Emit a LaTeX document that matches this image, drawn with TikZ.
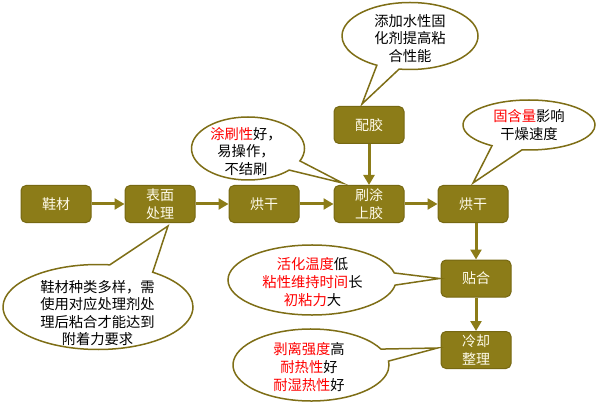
\documentclass[tikz,border=0pt]{standalone}
\usepackage{fontspec}
\setmainfont{Noto Sans CJK SC}
\usetikzlibrary{shapes.callouts,arrows.meta,calc}
\definecolor{boxolive}{RGB}{140,124,24}
\definecolor{boxedge}{RGB}{118,104,18}
\definecolor{bubbleedge}{RGB}{126,110,22}
\definecolor{boxtext}{RGB}{255,252,235}
\definecolor{hot}{RGB}{255,0,0}
\newcommand{\hl}[1]{\textcolor{hot}{#1}}
\tikzset{
  stepbox/.style={draw=boxedge, fill=boxolive, rounded corners=5pt, line width=1pt,
    minimum width=70pt, minimum height=37pt, inner sep=0pt, text=boxtext,
    font=\fontsize{14}{18}\selectfont, align=center},
  flow/.style={draw=boxolive, line width=3pt, -{Triangle[length=10pt,width=11pt]}},
  bubble/.style={ellipse callout, draw=bubbleedge, fill=white, line width=1.5pt,
    inner sep=0pt, callout pointer arc=20},
  btext/.style={inner sep=0pt, align=center, font=\fontsize{14.3}{17.6}\selectfont, text=black}
}
\begin{document}
\begin{tikzpicture}[x=1pt,y=-1pt]
\useasboundingbox (0,0) rectangle (596,403);
% process boxes
\node[stepbox] (b1) at (56,204) {鞋材};
\node[stepbox] (b2) at (160,204) {表面\\处理};
\node[stepbox] (b3) at (264,204) {烘干};
\node[stepbox] (b4) at (369,204) {刷涂\\上胶};
\node[stepbox] (b5) at (473,204) {烘干};
\node[stepbox] (b6) at (369,125) {配胶};
\node[stepbox] (b7) at (476,278.5) {贴合};
\node[stepbox] (b8) at (476,350) {冷却\\整理};
% arrows
\draw[flow] (b1.east) -- (b2.west);
\draw[flow] (b2.east) -- (b3.west);
\draw[flow] (b3.east) -- (b4.west);
\draw[flow] (b4.east) -- (b5.west);
\draw[flow] (b6.south) -- (b4.north);
\draw[flow] (b5.south -| b7.north) -- (b7.north);
\draw[flow] (b7.south) -- (b8.north);
% callouts
\coordinate (p1) at ($(b6.north)+(-7,-2)$);
\coordinate (p2) at ($(b4.north west)+(9,-2)$);
\coordinate (p3) at ($(b5.north)+(0,-2)$);
\coordinate (p4) at ($(b2.south)+(8,3)$);
\coordinate (p5) at ($(b7.west)+(-1,0)$);
\coordinate (p6) at ($(b8.west)+(-3,-2)$);
\node[bubble, minimum width=136pt, minimum height=67pt, callout absolute pointer={(p1)}] (c1) at (410,36) {};
\node[btext] (t1) at (410,38.5) {添加水性固\\化剂提高粘\\合性能};
\node[bubble, minimum width=113pt, minimum height=63pt, callout absolute pointer={(p2)}] (c2) at (248,148.5) {};
\node[btext] (t2) at (246,151.5) {\hl{涂刷性}好，\\易操作，\\不结刷};
\node[bubble, minimum width=132pt, minimum height=50pt, callout pointer arc=28, callout absolute pointer={(p3)}] (c3) at (529,125) {};
\node[btext] (t3) at (529,125) {\hl{固含量}影响\\干燥速度};
\node[bubble, minimum width=190pt, minimum height=85pt, callout pointer arc=28, callout absolute pointer={(p4)}] (c4) at (98,307) {};
\node[btext] (t4) at (97.5,313) {鞋材种类多样，需\\使用对应处理剂处\\理后粘合才能达到\\附着力要求};
\node[bubble, minimum width=168pt, minimum height=70pt, callout absolute pointer={(p5)}] (c5) at (312,280) {};
\node[btext] (t5) at (312.5,282) {\hl{活化温度}低\\\hl{粘性维持时间}长\\\hl{初粘力}大};
\node[bubble, minimum width=156pt, minimum height=72pt, callout absolute pointer={(p6)}] (c6) at (311,365) {};
\node[btext] (t6) at (309,367) {\hl{剥离强度}高\\\hl{耐热性}好\\\hl{耐湿热性}好};
\end{tikzpicture}
\end{document}
